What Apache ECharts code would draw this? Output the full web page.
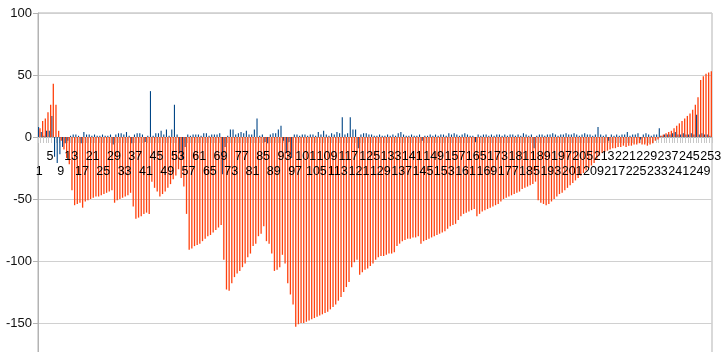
<!DOCTYPE html>
<html><head><meta charset="utf-8">
<script src="https://cdn.jsdelivr.net/npm/echarts@6/dist/echarts.min.js"></script>
<style>html,body{margin:0;padding:0;background:#fff}#c{width:726px;height:352px}</style>
</head><body><div id="c"></div>
<script>
const categories = [];
for (let i = 1; i <= 253; i++) categories.push(String(i));

const seriesBlue = [
  8, 4, 1, 5, 5, 17, -16, -21, -14, -8,
  -5, -3, 1, 2, 2, 1, -5, 4, 2, 2,
  1, 2, 1, 1, 2, 1, 1, 2, -6, 2,
  3, 3, 2, 4, 1, -5, 2, 3, 3, 2,
  -4, 1, 37, 1, 3, 3, 5, 2, 6, 1,
  6, 26, 2, -12, -18, -8, 2, 1, 2, 2,
  2, 1, 3, 3, 1, 2, 2, 2, 3, -30,
  -8, 1, 6, 6, 2, 3, 4, 3, 5, 2,
  2, 6, 15, 1, 2, -4, -5, 2, 3, 3,
  6, 9, -3, -13, -4, -17, 2, 2, 1, 2,
  2, 1, 2, 2, 1, 4, 2, 5, 2, 1,
  3, 2, 4, 3, 16, 2, 3, 16, 6, 6,
  -9, 2, 3, 3, 2, 2, 1, 1, 2, 1,
  1, 2, 1, 2, 1, 3, 4, 2, 1, 1,
  2, 1, 1, 2, -3, 1, 1, 2, 1, 2,
  1, 2, 2, 1, 3, 2, 3, 2, 1, 2,
  3, 2, 1, 1, -4, 2, 1, 2, 2, 1,
  2, 1, 2, 2, 1, 2, 1, 2, 2, 1,
  2, 1, 3, 2, 1, 2, -9, 1, 2, 2,
  1, 2, 2, 3, 2, 1, 2, 2, 3, 2,
  2, 3, 2, 1, 2, 3, 2, 2, 1, 2,
  8, 2, 1, 2, -3, 2, 1, 2, 1, 2,
  2, 4, 1, 2, 2, 3, -2, 2, 3, 2,
  1, 2, 2, 7, 1, 2, 2, 2, 3, 4,
  2, 2, 3, 2, 2, 3, 2, 18, 2, 3,
  2, 2, 1
];

const seriesOrange = [
  7, 13, 15, 20, 26, 43, 26, 5, -3, -10,
  -17, -22, -43, -55, -54, -53, -57, -52, -51, -50,
  -49, -48, -48, -47, -46, -45, -44, -43, -53, -51,
  -50, -49, -48, -47, -45, -56, -66, -65, -64, -62,
  -61, -62, -36, -41, -44, -48, -46, -44, -41, -38,
  -34, -31, -26, -33, -40, -62, -91, -90, -88, -87,
  -86, -84, -82, -80, -79, -77, -75, -73, -71, -99,
  -123, -124, -118, -113, -110, -108, -105, -102, -97, -94,
  -88, -86, -80, -78, -72, -84, -86, -94, -108, -107,
  -105, -95, -102, -118, -127, -135, -153, -151, -150, -150,
  -149, -148, -147, -146, -145, -144, -143, -142, -141, -139,
  -137, -135, -132, -129, -125, -121, -117, -105, -101, -99,
  -111, -109, -107, -106, -104, -102, -99, -97, -96, -96,
  -95, -94, -94, -93, -88, -86, -84, -83, -82, -82,
  -81, -81, -80, -86, -84, -83, -82, -81, -80, -79,
  -78, -77, -76, -74, -72, -71, -70, -67, -64, -62,
  -61, -60, -59, -58, -64, -62, -60, -59, -58, -57,
  -56, -55, -54, -52, -50, -49, -48, -47, -46, -45,
  -44, -42, -41, -40, -39, -38, -36, -51, -53, -54,
  -55, -54, -52, -50, -48, -46, -45, -43, -41, -39,
  -37, -35, -33, -31, -29, -27, -25, -23, -21, -18,
  -15, -13, -12, -11, -10, -9, -9, -8, -8, -7,
  -8, -7, -7, -6, -6, -5, -6, -6, -7, -6,
  -5, -3, -2, 1, 2, 3, 4, 5, 7, 9,
  11, 13, 15, 17, 19, 22, 26, 32, 46, 49,
  51, 52, 53
];

const yMin = -200, yMax = 100, yStep = 50;
const FONT = 'Liberation Sans, Arial, sans-serif';

function labelAxis(rowRemainder, margin) {
  return {
    type: 'category', data: categories, boundaryGap: true, position: 'bottom', offset: -248, z: 5,
    axisLine: {show: false, onZero: false},
    axisTick: {show: false},
    splitLine: {show: false},
    axisLabel: {
      interval: (idx) => idx % 8 === rowRemainder,
      showMaxLabel: true, showMinLabel: true, hideOverlap: false,
      color: '#000', fontFamily: FONT, fontSize: 12.5, margin: margin
    }
  };
}

const chart = echarts.init(document.getElementById('c'), null, {renderer: 'canvas'});
chart.setOption({
  animation: false,
  grid: {left: 38, right: 14, top: 13, bottom: -33, containLabel: false, outerBoundsMode: 'none',
         show: true, borderColor: '#b3b3b3', borderWidth: 1},
  xAxis: [
    {
      type: 'category', data: categories, boundaryGap: true,
      axisLine: {onZero: true, lineStyle: {color: '#b3b3b3', width: 1}},
      axisTick: {show: true, interval: 0, length: 6, lineStyle: {color: '#c8c8c8'}},
      axisLabel: {show: false}
    },
    labelAxis(4, 13),
    labelAxis(0, 28)
  ],
  yAxis: {
    type: 'value', min: yMin, max: yMax, interval: yStep,
    axisLine: {show: true, lineStyle: {color: '#b3b3b3'}},
    axisTick: {show: true, length: 5, lineStyle: {color: '#b3b3b3'}},
    splitLine: {lineStyle: {color: '#d0d0d0', width: 1}},
    axisLabel: {color: '#111', fontFamily: FONT, fontSize: 13, margin: 6}
  },
  series: [
    {type: 'bar', xAxisIndex: 0, data: seriesBlue, barWidth: 1.1, barGap: '20%', itemStyle: {color: '#004586'}},
    {type: 'bar', xAxisIndex: 0, data: seriesOrange, barWidth: 1.3, barGap: '20%', itemStyle: {color: '#ff420e'}}
  ]
});
</script></body></html>
